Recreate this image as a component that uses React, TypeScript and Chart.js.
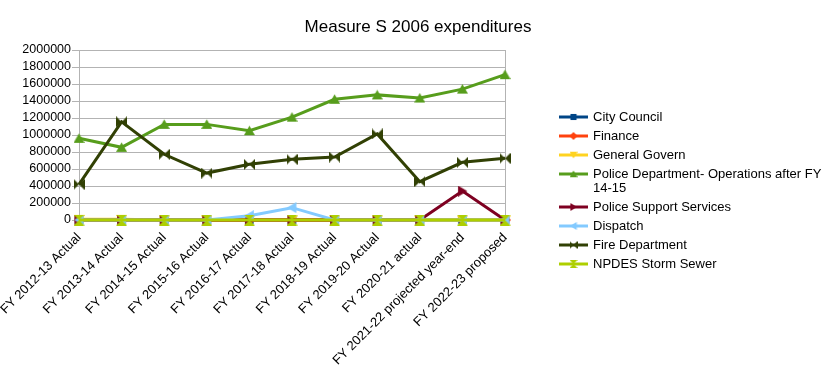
import React, { useEffect, useRef } from "react";
import { Chart, registerables } from "chart.js";

Chart.register(...registerables);

const titleText = "Measure S 2006 expenditures";

const categories = [
  "FY 2012-13 Actual",
  "FY 2013-14 Actual",
  "FY 2014-15 Actual",
  "FY 2015-16 Actual",
  "FY 2016-17 Actual",
  "FY 2017-18 Actual",
  "FY 2018-19 Actual",
  "FY 2019-20 Actual",
  "FY 2020-21 actual",
  "FY 2021-22 projected year-end",
  "FY 2022-23 proposed",
];

const cityCouncil = [0, 0, 0, 0, 0, 0, 0, 0, 0, 0, 0];
const finance = [0, 0, 0, 0, 0, 0, 0, 0, 0, 0, 0];
const generalGovern = [8000, 8000, 0, 0, 0, 0, 0, 0, 0, 0, 0];
const policeOps = [961000, 855000, 1125000, 1125000, 1050000, 1210000, 1420000, 1472000, 1435000, 1540000, 1710000];
const policeSupport = [0, 0, 0, 0, 0, 0, 0, 0, 0, 340000, 0];
const dispatch = [0, 0, 0, 0, 50000, 145000, 0, 0, 0, 0, 0];
const fireDept = [420000, 1155000, 773000, 552000, 655000, 714000, 741000, 1012000, 451000, 679000, 726000];
const npdes = [0, 0, 0, 0, 0, 0, 0, 0, 0, 0, 0];

const yTicks = [0, 200000, 400000, 600000, 800000, 1000000, 1200000, 1400000, 1600000, 1800000, 2000000];

const seriesNames = [
  "City Council",
  "Finance",
  "General Govern",
  "Police Department- Operations after FY 14-15",
  "Police Support Services",
  "Dispatch",
  "Fire Department",
  "NPDES Storm Sewer",
];
const legendLines = [
  ["City Council"],
  ["Finance"],
  ["General Govern"],
  ["Police Department- Operations after FY", "14-15"],
  ["Police Support Services"],
  ["Dispatch"],
  ["Fire Department"],
  ["NPDES Storm Sewer"],
];
const seriesColors = ["#004586", "#ff420e", "#ffd320", "#579d1c", "#7e0021", "#83caff", "#314004", "#aecf00"];
const seriesShapes = ["square", "diamond", "triDown", "triUp", "triRight", "triLeft", "bowtie", "hourglass"];
const seriesData = [cityCouncil, finance, generalGovern, policeOps, policeSupport, dispatch, fireDept, npdes];

const FONT = "'Liberation Sans', Arial, sans-serif";

function makeMarker(shape: string, color: string, size: number): HTMLCanvasElement {
  const c = document.createElement("canvas");
  c.width = size;
  c.height = size;
  const g = c.getContext("2d")!;
  g.fillStyle = color;
  const s = size;
  g.beginPath();
  switch (shape) {
    case "square":
      g.rect(s * 0.12, s * 0.12, s * 0.76, s * 0.76);
      break;
    case "diamond":
      g.moveTo(s / 2, 0);
      g.lineTo(s, s / 2);
      g.lineTo(s / 2, s);
      g.lineTo(0, s / 2);
      break;
    case "triDown":
      g.moveTo(0, s * 0.1);
      g.lineTo(s, s * 0.1);
      g.lineTo(s / 2, s * 0.95);
      break;
    case "triUp":
      g.moveTo(s / 2, s * 0.05);
      g.lineTo(s, s * 0.9);
      g.lineTo(0, s * 0.9);
      break;
    case "triRight":
      g.moveTo(s * 0.1, 0);
      g.lineTo(s * 0.95, s / 2);
      g.lineTo(s * 0.1, s);
      break;
    case "triLeft":
      g.moveTo(s * 0.9, 0);
      g.lineTo(s * 0.05, s / 2);
      g.lineTo(s * 0.9, s);
      break;
    case "bowtie":
      g.moveTo(0, 0);
      g.lineTo(s / 2, s / 2);
      g.lineTo(0, s);
      g.closePath();
      g.moveTo(s, 0);
      g.lineTo(s / 2, s / 2);
      g.lineTo(s, s);
      break;
    case "hourglass":
      g.moveTo(0, 0);
      g.lineTo(s, 0);
      g.lineTo(s / 2, s / 2);
      g.closePath();
      g.moveTo(0, s);
      g.lineTo(s, s);
      g.lineTo(s / 2, s / 2);
      break;
  }
  g.closePath();
  g.fill();
  return c;
}

export default function App() {
  const ref = useRef<HTMLCanvasElement | null>(null);

  useEffect(() => {
    if (!ref.current) return;
    const markers = seriesShapes.map((sh, i) => makeMarker(sh, seriesColors[i], 11));
    const legendMarkers = seriesShapes.map((sh, i) => makeMarker(sh, seriesColors[i], 8));

    const legendPlugin = {
      id: "customLegend",
      afterDraw(chart: any) {
        const ctx = chart.ctx;
        ctx.save();
        ctx.fillStyle = "#000";
        ctx.textBaseline = "middle";
        ctx.textAlign = "center";
        ctx.font = `17px ${FONT}`;
        ctx.fillText(titleText, 418, 27);
        ctx.textAlign = "left";
        ctx.font = `13px ${FONT}`;
        let y = 117;
        legendLines.forEach((lines, i) => {
          ctx.strokeStyle = seriesColors[i];
          ctx.lineWidth = 3;
          ctx.beginPath();
          ctx.moveTo(559, y);
          ctx.lineTo(588, y);
          ctx.stroke();
          ctx.drawImage(legendMarkers[i], 573.5 - 4, y - 4, 8, 8);
          lines.forEach((t, k) => {
            ctx.fillText(t, 593, y + k * 14);
          });
          y += 19 + (lines.length - 1) * 14;
        });
        ctx.restore();
      },
    };

    const chart = new Chart(ref.current, {
      type: "line",
      data: {
        labels: categories,
        datasets: seriesNames.map((name, i) => ({
          label: name,
          data: seriesData[i],
          borderColor: seriesColors[i],
          backgroundColor: seriesColors[i],
          borderWidth: 3,
          pointStyle: markers[i] as any,
          pointRadius: 5,
          order: seriesNames.length - i,
          tension: 0,
          clip: false as any,
        })),
      },
      options: {
        animation: false,
        responsive: false,
        layout: { padding: { left: 0, right: 326, top: 50, bottom: 0 } },
        plugins: {
          legend: { display: false },
          tooltip: { enabled: false },
          title: { display: false },
        },
        scales: {
          x: {
            offset: false,
            grid: {
              color: (c: any) => (c.index === 0 || c.index === categories.length - 1 ? "#b3b3b3" : "rgba(0,0,0,0)"),
              tickLength: 0,
            },
            border: { display: false },
            ticks: {
              color: "#000",
              font: { family: FONT, size: 13 },
              minRotation: 45,
              maxRotation: 45,
              autoSkip: false,
              padding: 10,
            },
            afterFit: (axis: any) => {
              axis.height = 161;
              axis.paddingLeft = 0;
              axis.paddingRight = 0;
            },
          },
          y: {
            min: 0,
            max: 2000000,
            afterBuildTicks: (axis: any) => {
              axis.ticks = yTicks.map((v) => ({ value: v }));
            },
            grid: { color: "#b3b3b3", tickLength: 7 },
            border: { color: "#b3b3b3" },
            ticks: {
              color: "#000",
              font: { family: FONT, size: 12.5 },
              padding: 1,
              autoSkip: false,
              callback: (v: any) => String(v),
            },
            afterFit: (axis: any) => {
              axis.width = 79;
              axis.paddingTop = 0;
              axis.paddingBottom = 0;
            },
          },
        },
      },
      plugins: [legendPlugin],
    });
    return () => chart.destroy();
  }, []);

  return (
    <div style={{ position: "fixed", left: 0, top: 0, width: 831, height: 381, background: "#fff" }}>
      <canvas ref={ref} width={831} height={381} />
    </div>
  );
}
